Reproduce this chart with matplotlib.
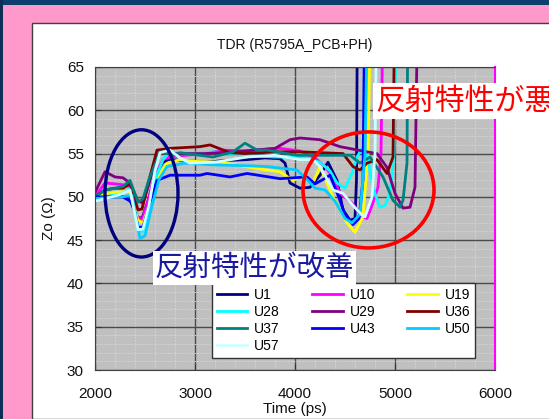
import matplotlib
matplotlib.use("Agg")
import matplotlib.pyplot as plt
from matplotlib.patches import Ellipse, Rectangle
from matplotlib.ticker import FixedLocator, MultipleLocator

plt.rcParams["font.family"] = ["Liberation Sans", "DejaVu Sans"]

# TDR traces, time in ps and impedance in ohm
u1_t = [2000, 2100, 2200, 2280, 2350, 2420, 2470, 2530, 2600, 2680, 2750, 2900, 3100, 3300, 3520, 3700,
        3850, 3900, 3950, 4050, 4150, 4250, 4330, 4420, 4480, 4550, 4600, 4615, 4625]
u1_z = [50.0, 50.2, 50.1, 50.0, 49.6, 47.7, 47.5, 49.5, 52.5, 54.0, 54.3, 54.2, 54.0, 54.2, 54.3, 54.5,
        54.4, 53.9, 51.6, 51.0, 51.1, 52.5, 54.0, 51.9, 48.5, 47.3, 47.5, 52.0, 75.0]

u10_t = [2000, 2100, 2200, 2280, 2350, 2420, 2470, 2530, 2600, 2680, 2750, 2900, 3100, 3280, 3500, 3700,
         3850, 4050, 4200, 4300, 4380, 4450, 4570, 4670, 4720, 4770, 4830, 4860, 4885]
u10_z = [50.0, 51.6, 51.5, 51.4, 51.2, 47.8, 47.3, 49.5, 52.5, 54.3, 54.6, 54.8, 55.0, 55.4, 55.3, 55.5,
         55.6, 55.3, 54.5, 53.5, 52.3, 50.4, 49.3, 47.7, 47.5, 49.0, 51.1, 55.0, 75.0]

u19_t = [2000, 2100, 2200, 2280, 2350, 2430, 2480, 2540, 2620, 2720, 2850, 3000, 3250, 3500, 3720, 3850,
         3980, 4050, 4180, 4250, 4380, 4520, 4600, 4680, 4730, 4760]
u19_z = [50.0, 50.3, 50.5, 50.6, 50.6, 47.3, 47.0, 49.0, 52.0, 53.9, 54.3, 54.1, 54.0, 53.5, 53.1, 52.9,
         51.9, 52.3, 51.6, 53.5, 50.0, 47.0, 45.9, 47.7, 55.0, 75.0]

u28_t = [2000, 2100, 2200, 2280, 2350, 2430, 2480, 2540, 2600, 2680, 2750, 2900, 3200, 3500, 3800, 4050,
         4250, 4350, 4420, 4500, 4580, 4620, 4680, 4720, 4780, 4850, 4900, 4950, 4990, 5020]
u28_z = [49.8, 50.0, 50.2, 50.4, 51.0, 46.2, 46.0, 48.5, 52.0, 54.3, 55.2, 55.0, 55.2, 54.8, 54.6, 54.6,
         54.0, 53.0, 51.6, 51.0, 53.0, 54.6, 55.8, 55.0, 51.0, 48.8, 49.0, 50.4, 55.0, 75.0]

u29_t = [2000, 2100, 2200, 2280, 2350, 2430, 2480, 2540, 2600, 2650, 2800, 3100, 3500, 3800, 3950, 4050,
         4250, 4450, 4720, 4820, 4920, 5000, 5080, 5150, 5200, 5230]
u29_z = [50.5, 52.9, 52.3, 52.2, 51.6, 49.5, 49.3, 51.5, 54.0, 55.2, 55.0, 55.0, 55.3, 55.6, 56.6, 56.8,
         56.6, 55.8, 55.2, 55.0, 53.4, 50.4, 48.7, 48.8, 51.1, 75.0]

u36_t = [2000, 2100, 2200, 2280, 2350, 2430, 2470, 2530, 2620, 2750, 3050, 3150, 3350, 3500, 3800, 4050,
         4480, 4580, 4650, 4720, 4820, 4920, 4980, 5000]
u36_z = [50.0, 50.8, 51.0, 51.0, 51.5, 48.5, 48.6, 51.5, 55.4, 55.6, 55.8, 56.0, 55.1, 55.0, 55.2, 55.2,
         55.0, 53.5, 53.1, 53.9, 54.3, 52.7, 54.6, 75.0]

u37_t = [2000, 2100, 2200, 2280, 2350, 2430, 2480, 2540, 2650, 2780, 2850, 3180, 3380, 3500, 3620, 3720,
         4020, 4550, 4650, 4750, 4880, 4980, 5050, 5080, 5120, 5130]
u37_z = [50.0, 50.8, 51.0, 51.2, 51.9, 49.4, 49.8, 52.0, 55.2, 54.8, 55.1, 54.6, 55.2, 56.2, 55.4, 55.4,
         54.8, 54.8, 53.9, 54.6, 52.3, 49.6, 48.8, 49.6, 53.9, 75.0]

u43_t = [2000, 2100, 2200, 2280, 2380, 2430, 2480, 2540, 2620, 2750, 3050, 3120, 3350, 3520, 3850, 4120,
         4200, 4280, 4350, 4420, 4500, 4580, 4640, 4680, 4700]
u43_z = [50.0, 50.0, 50.0, 50.0, 49.3, 46.5, 46.5, 49.0, 51.9, 52.5, 52.5, 52.7, 52.3, 52.7, 52.1, 52.3,
         51.5, 52.0, 52.5, 50.5, 48.0, 46.8, 47.5, 52.0, 75.0]

u50_t = [2000, 2100, 2200, 2280, 2370, 2450, 2500, 2560, 2640, 2720, 2900, 3180, 3500, 3720, 4020, 4120,
         4200, 4300, 4400, 4500, 4570, 4650, 4700, 4730]
u50_z = [49.8, 49.9, 50.0, 50.0, 50.2, 45.2, 45.5, 48.5, 52.0, 53.5, 53.9, 53.7, 53.6, 53.5, 53.1, 52.0,
         51.0, 50.8, 49.5, 47.5, 47.0, 48.0, 55.0, 75.0]

u57_t = [2000, 2100, 2200, 2280, 2350, 2430, 2480, 2540, 2600, 2650, 2750, 2850, 2950, 3200, 3520, 3800,
         4050, 4180, 4250, 4380, 4480, 4580, 4670, 4700, 4770, 4800, 4820]
u57_z = [49.5, 49.8, 50.1, 50.4, 50.8, 46.2, 46.3, 49.0, 53.0, 55.1, 55.4, 54.5, 53.9, 54.0, 54.6, 54.8,
         54.3, 54.3, 53.5, 50.8, 50.4, 49.0, 47.9, 47.7, 50.0, 55.0, 75.0]

series = [
    ("U1", u1_t, u1_z, "#000080"),
    ("U10", u10_t, u10_z, "#ff00ff"),
    ("U19", u19_t, u19_z, "#ffff00"),
    ("U28", u28_t, u28_z, "#00ffff"),
    ("U29", u29_t, u29_z, "#800080"),
    ("U36", u36_t, u36_z, "#800000"),
    ("U37", u37_t, u37_z, "#008080"),
    ("U43", u43_t, u43_z, "#0000ff"),
    ("U50", u50_t, u50_z, "#00ccff"),
    ("U57", u57_t, u57_z, "#ccffff"),
]

W, H = 549, 419


def fx(px):
    return px / W


def fy(py):
    return 1 - py / H


def draw_slide(fig):
    # slide frame: dark band on top, pink page, white chart panel
    fig.patch.set_facecolor("#ff99cc")
    fig.add_artist(Rectangle((0, fy(5)), 1, 5 / H, transform=fig.transFigure,
                             facecolor="#0d3f6e", edgecolor="none", zorder=0))
    fig.add_artist(Rectangle((0, 0), 3 / W, 1, transform=fig.transFigure,
                             facecolor="#0d2f55", edgecolor="none", zorder=0))
    fig.add_artist(Rectangle((fx(32), 0), 1, fy(23), transform=fig.transFigure,
                             facecolor="white", edgecolor="#404040", linewidth=1.0, zorder=0))


def main():
    fig = plt.figure(figsize=(W / 100, H / 100), dpi=100)
    draw_slide(fig)

    ax = fig.add_axes([fx(95), fy(370), (495 - 95) / W, (370 - 67) / H])
    ax.set_facecolor("#c0c0c0")

    handles = {}
    for name, t, z, color in series:
        (line,) = ax.plot(t, z, color=color, linewidth=2.0, label=name, solid_joinstyle="round")
        handles[name] = line

    ax.set_xlim(2000, 6000)
    ax.set_ylim(30, 65)
    ax.xaxis.set_major_locator(MultipleLocator(1000))
    ax.xaxis.set_minor_locator(FixedLocator([v for v in range(2000, 6001, 200) if v % 1000]))
    ax.yaxis.set_major_locator(MultipleLocator(5))
    ax.yaxis.set_minor_locator(FixedLocator([v for v in range(30, 66) if v % 5]))
    ax.grid(which="major", color="#4a4a4a", linewidth=1.0)
    ax.grid(which="minor", color="#d6d6d6", linewidth=0.7, linestyle=(0, (1.5, 1.5)))
    ax.set_axisbelow(True)
    ax.tick_params(which="major", direction="in", length=4, color="#333333", labelsize=11, labelcolor="#111111")
    ax.tick_params(axis="x", which="major", pad=12)
    ax.tick_params(axis="y", which="major", pad=8)
    ax.tick_params(which="minor", length=0)
    for side in ["left", "bottom", "top"]:
        ax.spines[side].set_color("#404040")
    ax.spines["right"].set_color("#ff00ff")
    ax.spines["right"].set_linewidth(1.5)

    ax.set_title("TDR (R5795A_PCB+PH)", fontsize=10, pad=13, color="#111111")
    ax.set_xlabel("Time (ps)", fontsize=11, labelpad=1, color="#111111")
    ax.set_ylabel("Zo (Ω)", fontsize=11, labelpad=8, color="#111111")

    # legend rows read U1 U10 U19 / U28 U29 U36 / U37 U43 U50 / U57
    order = ["U1", "U28", "U37", "U57", "U10", "U29", "U43", "U19", "U36", "U50"]
    leg = ax.legend([handles[n] for n in order], order, loc="upper left", ncol=3, mode="expand",
                    bbox_to_anchor=(fx(212), fy(355), 263 / W, 72 / H), bbox_transform=fig.transFigure,
                    borderaxespad=0, fontsize=10, handlelength=2.2, labelspacing=0.22, borderpad=0.35,
                    handletextpad=0.5, fancybox=False, framealpha=1, edgecolor="#333333")
    leg.get_frame().set_linewidth(1.0)
    leg.set_zorder(5)

    # highlight rings
    ax.add_patch(Ellipse((2465, 50.4), 730, 14.7, fill=False, edgecolor="#000080", linewidth=2.4, zorder=6))
    ax.add_patch(Ellipse((4735, 50.8), 1310, 13.4, fill=False, edgecolor="#ff0000", linewidth=2.6, zorder=6))

    jp = ["Noto Sans CJK JP", "DejaVu Sans"]
    fig.text(fx(375), fy(101), "反射特性が悪", family=jp, fontsize=21.5, color="#ff0000", va="center",
             ha="left", zorder=10,
             bbox=dict(facecolor="white", edgecolor="none", pad=1.5))
    fig.text(fx(155), fy(268), "反射特性が改善", family=jp, fontsize=20.5, color="#1a1aa0", va="center",
             ha="left", zorder=10,
             bbox=dict(facecolor="white", edgecolor="none", pad=1.5))

    fig.savefig("out.png", dpi=100, facecolor=fig.get_facecolor())


if __name__ == "__main__":
    main()
